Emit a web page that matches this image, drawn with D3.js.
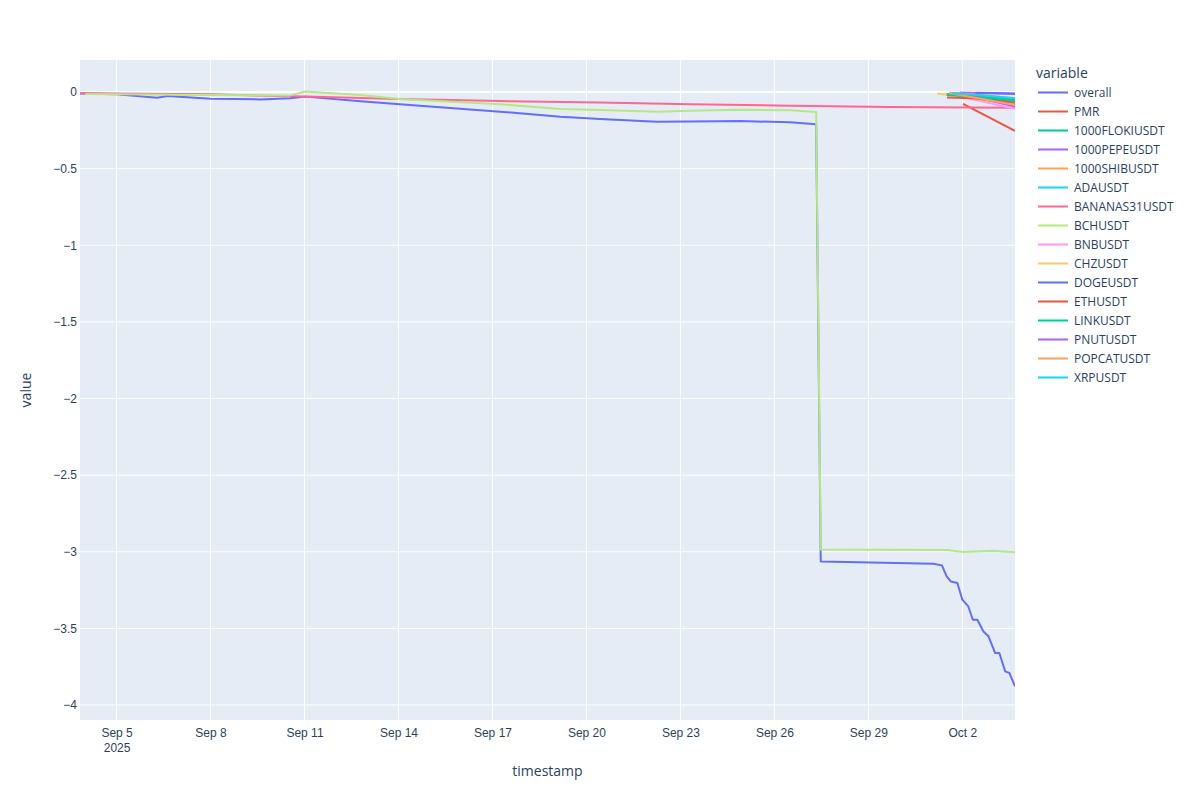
<!DOCTYPE html>
<html>
<head>
<meta charset="utf-8">
<script src="https://cdn.jsdelivr.net/npm/d3@7"></script>
<style>
  body { margin: 0; background: #fff; }
  svg { font-family: "Open Sans", "Noto Sans", sans-serif; }
</style>
</head>
<body>
<div id="chart"></div>
<script>
// series values: [timestamp, value]
const overall = [
  ["2025-09-03 20:00", -0.009], ["2025-09-05 00:00", -0.015], ["2025-09-06 07:00", -0.037],
  ["2025-09-06 15:00", -0.026], ["2025-09-08 00:00", -0.044], ["2025-09-09 14:00", -0.048],
  ["2025-09-10 13:00", -0.041], ["2025-09-11 00:30", -0.030], ["2025-09-12 19:00", -0.060],
  ["2025-09-14 01:00", -0.080], ["2025-09-17 06:00", -0.128], ["2025-09-19 04:00", -0.162],
  ["2025-09-20 10:30", -0.176], ["2025-09-22 06:00", -0.194], ["2025-09-23 07:30", -0.193],
  ["2025-09-24 22:00", -0.189], ["2025-09-26 12:00", -0.198], ["2025-09-27 08:00", -0.211],
  ["2025-09-27 11:30", -3.063], ["2025-10-01 01:40", -3.078], ["2025-10-01 08:20", -3.089],
  ["2025-10-01 12:00", -3.161], ["2025-10-01 15:10", -3.194], ["2025-10-01 20:10", -3.204],
  ["2025-10-02 00:00", -3.313], ["2025-10-02 04:35", -3.357], ["2025-10-02 08:00", -3.444],
  ["2025-10-02 11:30", -3.444], ["2025-10-02 16:10", -3.520], ["2025-10-02 20:00", -3.552],
  ["2025-10-03 01:10", -3.661], ["2025-10-03 04:20", -3.661], ["2025-10-03 08:50", -3.781],
  ["2025-10-03 12:00", -3.791], ["2025-10-03 16:20", -3.879]
];
const pmr = [
  ["2025-10-02 00:30", -0.078], ["2025-10-03 16:20", -0.254]
];
const floki = [
  ["2025-10-01 12:00", -0.013], ["2025-10-02 00:00", -0.020], ["2025-10-02 16:00", -0.040],
  ["2025-10-03 16:20", -0.060]
];
const pepe = [
  ["2025-10-01 22:00", -0.003], ["2025-10-02 16:00", -0.008], ["2025-10-03 16:20", -0.013]
];
const shib = [
  ["2025-10-01 14:00", -0.005], ["2025-10-02 12:00", -0.018], ["2025-10-03 16:20", -0.040]
];
const ada = [
  ["2025-10-01 16:00", -0.010], ["2025-10-02 12:00", -0.028], ["2025-10-03 16:20", -0.052]
];
const bananas = [
  ["2025-09-03 20:00", -0.006], ["2025-09-05 00:00", -0.009], ["2025-09-08 00:00", -0.015],
  ["2025-09-11 00:00", -0.030], ["2025-09-14 00:00", -0.046], ["2025-09-17 06:00", -0.059],
  ["2025-09-20 10:00", -0.068], ["2025-09-23 08:00", -0.080], ["2025-09-26 12:00", -0.089],
  ["2025-09-29 16:00", -0.097], ["2025-10-03 16:20", -0.102]
];
const bch = [
  ["2025-09-04 00:00", -0.013], ["2025-09-07 00:00", -0.018], ["2025-09-10 13:00", -0.022],
  ["2025-09-11 00:30", 0.003], ["2025-09-12 19:00", -0.020], ["2025-09-14 01:00", -0.046],
  ["2025-09-17 06:00", -0.080], ["2025-09-19 04:00", -0.110], ["2025-09-20 10:30", -0.117],
  ["2025-09-22 06:00", -0.128], ["2025-09-23 07:30", -0.122], ["2025-09-24 22:00", -0.115],
  ["2025-09-26 12:00", -0.119], ["2025-09-27 08:00", -0.130], ["2025-09-27 11:30", -2.985],
  ["2025-10-01 12:15", -2.988], ["2025-10-02 00:30", -3.002], ["2025-10-02 23:30", -2.993],
  ["2025-10-03 16:20", -3.003]
];
const bnb = [
  ["2025-10-01 18:00", -0.020], ["2025-10-02 12:00", -0.055], ["2025-10-03 16:20", -0.110]
];
const chz = [
  ["2025-10-01 04:45", -0.010], ["2025-10-02 00:00", -0.030], ["2025-10-02 18:00", -0.055],
  ["2025-10-03 16:20", -0.075]
];
const doge = [
  ["2025-10-02 10:00", -0.004], ["2025-10-03 00:00", -0.007], ["2025-10-03 16:20", -0.010]
];
const eth = [
  ["2025-10-01 12:15", -0.035], ["2025-10-02 08:00", -0.040], ["2025-10-03 16:20", -0.070]
];
const link = [
  ["2025-10-01 12:00", -0.020], ["2025-10-02 08:00", -0.030], ["2025-10-03 16:20", -0.050]
];
const pnut = [
  ["2025-10-01 20:00", -0.008], ["2025-10-02 16:00", -0.045], ["2025-10-03 16:20", -0.095]
];
const popcat = [
  ["2025-10-01 14:00", -0.006], ["2025-10-02 12:00", -0.040], ["2025-10-03 16:20", -0.085]
];
const xrp = [
  ["2025-10-01 16:00", -0.008], ["2025-10-02 12:00", -0.020], ["2025-10-03 16:20", -0.040]
];

const seriesNames = ["overall", "PMR", "1000FLOKIUSDT", "1000PEPEUSDT", "1000SHIBUSDT", "ADAUSDT",
  "BANANAS31USDT", "BCHUSDT", "BNBUSDT", "CHZUSDT", "DOGEUSDT", "ETHUSDT", "LINKUSDT",
  "PNUTUSDT", "POPCATUSDT", "XRPUSDT"];
const seriesData = [overall, pmr, floki, pepe, shib, ada, bananas, bch, bnb, chz, doge, eth, link,
  pnut, popcat, xrp];
const palette = ["#636efa", "#EF553B", "#00cc96", "#ab63fa", "#FFA15A", "#19d3f3", "#FF6692",
  "#B6E880", "#FF97FF", "#FECB52"];

const xTickDates = ["2025-09-05", "2025-09-08", "2025-09-11", "2025-09-14", "2025-09-17",
  "2025-09-20", "2025-09-23", "2025-09-26", "2025-09-29", "2025-10-02"];
const yTickValues = [0, -0.5, -1, -1.5, -2, -2.5, -3, -3.5, -4];
const yDomain = [-4.098, 0.209];

const width = 1200, height = 800;
const margin = { top: 60, right: 185, bottom: 80, left: 80 };
const plotW = width - margin.left - margin.right;
const plotH = height - margin.top - margin.bottom;

const parseTime = d3.timeParse("%Y-%m-%d %H:%M");
const parseDay = d3.timeParse("%Y-%m-%d");

const traces = seriesNames.map((name, i) => ({
  name: name,
  color: palette[i % palette.length],
  points: seriesData[i].map(d => ({ t: parseTime(d[0]), v: d[1] }))
}));

const allPoints = traces.flatMap(s => s.points);
const x = d3.scaleTime()
  .domain(d3.extent(allPoints, d => d.t))
  .range([0, plotW]);
const y = d3.scaleLinear()
  .domain(yDomain)
  .range([plotH, 0]);

const svg = d3.select("#chart")
  .append("svg")
  .attr("width", width)
  .attr("height", height);

const g = svg.append("g")
  .attr("transform", `translate(${margin.left}, ${margin.top})`);

g.append("rect")
  .attr("width", plotW)
  .attr("height", plotH)
  .attr("fill", "#E5ECF6");

// grid lines
const xTicks = xTickDates.map(parseDay);
g.append("g")
  .selectAll("line")
  .data(xTicks)
  .enter().append("line")
  .attr("x1", d => x(d)).attr("x2", d => x(d))
  .attr("y1", 0).attr("y2", plotH)
  .attr("stroke", "#fff").attr("stroke-width", 1);

g.append("g")
  .selectAll("line")
  .data(yTickValues.filter(v => v !== 0))
  .enter().append("line")
  .attr("x1", 0).attr("x2", plotW)
  .attr("y1", d => y(d)).attr("y2", d => y(d))
  .attr("stroke", "#fff").attr("stroke-width", 1);

// zero line
g.append("line")
  .attr("x1", 0).attr("x2", plotW)
  .attr("y1", y(0)).attr("y2", y(0))
  .attr("stroke", "#fff").attr("stroke-width", 2);

// x axis
const fmtDay = d3.timeFormat("%b %-d");
const xAxis = g.append("g")
  .attr("transform", `translate(0, ${plotH})`)
  .call(d3.axisBottom(x).tickValues(xTicks).tickSize(0).tickPadding(8).tickFormat(fmtDay));
xAxis.select(".domain").remove();
xAxis.selectAll("text")
  .attr("fill", "#2a3f5f")
  .style("font-size", "12px");
xAxis.selectAll(".tick").filter((d, i) => i === 0)
  .append("text")
  .attr("y", 23)
  .attr("dy", "0.71em")
  .attr("text-anchor", "middle")
  .attr("fill", "#2a3f5f")
  .style("font-size", "12px")
  .text(d => d3.timeFormat("%Y")(d));

// y axis
const yAxis = g.append("g")
  .call(d3.axisLeft(y).tickValues(yTickValues).tickSize(0).tickPadding(3)
    .tickFormat(d => d3.format("")(d).replace("-", "\u2212")));
yAxis.select(".domain").remove();
yAxis.selectAll("text")
  .attr("fill", "#2a3f5f")
  .style("font-size", "12px");

// axis titles
svg.append("text")
  .attr("x", margin.left + plotW / 2)
  .attr("y", 776)
  .attr("text-anchor", "middle")
  .attr("fill", "#2a3f5f")
  .style("font-size", "14px")
  .text("timestamp");

svg.append("text")
  .attr("transform", `translate(31, ${margin.top + plotH / 2}) rotate(-90)`)
  .attr("text-anchor", "middle")
  .attr("fill", "#2a3f5f")
  .style("font-size", "14px")
  .text("value");

// lines
svg.append("defs").append("clipPath")
  .attr("id", "plot-clip")
  .append("rect")
  .attr("width", plotW)
  .attr("height", plotH);

const line = d3.line()
  .x(d => x(d.t))
  .y(d => y(d.v));

g.append("g")
  .attr("clip-path", "url(#plot-clip)")
  .selectAll("path")
  .data(traces)
  .enter().append("path")
  .attr("d", d => line(d.points))
  .attr("fill", "none")
  .attr("stroke", d => d.color)
  .attr("stroke-width", 2)
  .attr("stroke-linejoin", "round");

// legend
const legend = svg.append("g")
  .attr("transform", "translate(1036, 0)");

legend.append("text")
  .attr("x", 0)
  .attr("y", 78)
  .attr("fill", "#2a3f5f")
  .style("font-size", "14px")
  .text("variable");

const items = legend.selectAll(".item")
  .data(traces)
  .enter().append("g")
  .attr("class", "item")
  .attr("transform", (d, i) => `translate(0, ${92.5 + i * 19})`);

items.append("line")
  .attr("x1", 2).attr("x2", 32)
  .attr("stroke", d => d.color)
  .attr("stroke-width", 2);

items.append("text")
  .attr("x", 38)
  .attr("dy", "0.35em")
  .attr("fill", "#2a3f5f")
  .style("font-size", "12px")
  .text(d => d.name);
</script>
</body>
</html>
